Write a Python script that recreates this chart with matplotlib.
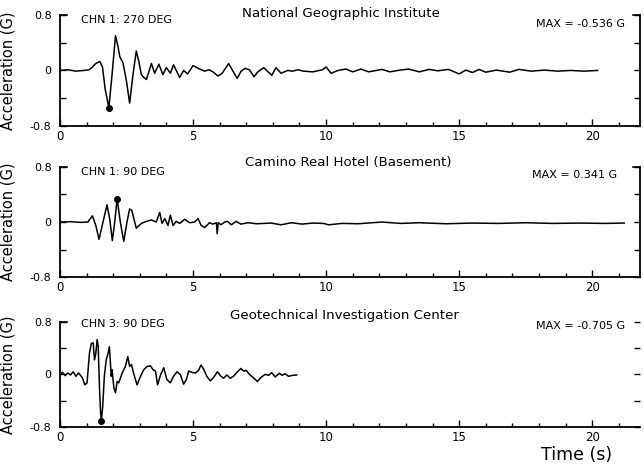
import matplotlib
matplotlib.use("Agg")
import matplotlib.pyplot as plt
from matplotlib.ticker import MultipleLocator, FixedLocator, FixedFormatter

# ---------------- data ----------------
stations = ["National Geographic Institute",
            "Camino Real Hotel (Basement)",
            "Geotechnical Investigation Center"]
channels = ["CHN 1: 270 DEG", "CHN 1: 90 DEG", "CHN 3: 90 DEG"]
max_labels = ["MAX = -0.536 G", "MAX = 0.341 G", "MAX = -0.705 G"]

t1 = [0, 0.3, 0.6, 0.9, 1.1, 1.2, 1.35, 1.5, 1.6, 1.7,
      1.84, 1.95, 2.09, 2.18, 2.25, 2.37, 2.5, 2.62, 2.75, 2.87,
      2.97, 3.06, 3.15, 3.25, 3.44, 3.56, 3.72, 3.87, 4.0, 4.15,
      4.27, 4.5, 4.65, 4.8, 5.0, 5.25, 5.44, 5.6, 5.75, 5.94,
      6.1, 6.34, 6.5, 6.66, 6.81, 6.96, 7.12, 7.29, 7.44, 7.66,
      7.82, 7.96, 8.12, 8.31, 8.56, 8.75, 8.94, 9.15, 9.5, 9.87,
      10.0, 10.19, 10.45, 10.75, 11.0, 11.31, 11.6, 12.1, 12.4, 12.7,
      13.1, 13.5, 13.87, 14.2, 14.6, 15.0, 15.25, 15.5, 15.75, 16.0,
      16.4, 16.9, 17.25, 17.7, 18.2, 18.7, 19.2, 19.7, 20.2]
a1 = [0, 0.01, -0.01, 0.0, 0.01, 0.04, 0.10, 0.13, 0.05, -0.27,
      -0.536, -0.10, 0.50, 0.35, 0.20, 0.11, -0.15, -0.47, -0.05, 0.28,
      0.12, -0.06, -0.10, -0.13, 0.10, -0.04, 0.09, -0.06, 0.04, -0.04,
      0.08, -0.10, 0.0, -0.05, 0.07, 0.02, -0.01, 0.01, -0.02, -0.08,
      -0.04, 0.10, -0.01, -0.115, -0.01, 0.03, 0.01, -0.09, -0.02, 0.04,
      -0.02, -0.07, 0.04, -0.04, 0.0, -0.01, 0.01, -0.01, -0.02, 0.01,
      0.05, -0.04, 0.0, 0.02, -0.02, 0.02, -0.02, 0.015, -0.02, 0.0,
      0.02, -0.02, 0.015, -0.005, 0.015, -0.05, 0.005, -0.03, 0.015, -0.025,
      0.005, -0.025, 0.015, -0.01, 0.005, -0.01, 0.0, -0.01, 0.0]

t2 = [0, 0.4, 0.8, 1.05, 1.22, 1.35, 1.47, 1.62, 1.77, 1.87,
      1.97, 2.06, 2.15, 2.27, 2.4, 2.52, 2.62, 2.7, 2.87, 3.06,
      3.25, 3.44, 3.62, 3.75, 3.84, 3.94, 4.06, 4.15, 4.25, 4.37,
      4.5, 4.69, 4.87, 5.06, 5.19, 5.31, 5.44, 5.62, 5.75, 5.88,
      5.91, 5.95, 6.05, 6.19, 6.3, 6.44, 6.62, 6.8, 7.06, 7.4,
      7.94, 8.31, 8.7, 9.1, 9.5, 9.9, 10.1, 10.6, 11.2, 12.1,
      12.8, 13.5, 14.5, 15.5, 16.5, 17.5, 18.5, 19.5, 20.5, 21.2]
a2 = [0, 0.005, -0.005, 0.0, 0.09, -0.05, -0.25, 0.0, 0.25, 0.05,
      -0.27, 0.0, 0.341, 0.0, -0.28, 0.0, 0.19, 0.17, -0.09, -0.02,
      0.01, 0.03, 0.0, 0.14, -0.02, 0.05, -0.05, 0.10, -0.05, 0.01,
      -0.02, 0.04, -0.01, 0.0, 0.05, -0.05, -0.08, -0.01, -0.03, -0.01,
      -0.17, -0.01, -0.04, 0.0, 0.01, -0.04, 0.01, -0.03, -0.01, -0.025,
      -0.015, -0.04, -0.01, -0.03, -0.015, -0.02, -0.04, -0.02, -0.025, 0.0,
      -0.02, -0.01, -0.025, -0.015, -0.02, -0.01, -0.02, -0.015, -0.02, -0.015]

t3 = [0, 0.1, 0.2, 0.3, 0.4, 0.5, 0.6, 0.7, 0.84, 0.94,
      1.02, 1.11, 1.18, 1.25, 1.3, 1.35, 1.4, 1.44, 1.49, 1.53,
      1.56, 1.61, 1.67, 1.74, 1.81, 1.86, 1.93, 1.96, 2.03, 2.09,
      2.15, 2.21, 2.34, 2.46, 2.55, 2.62, 2.69, 2.78, 2.9, 3.03,
      3.15, 3.28, 3.4, 3.5, 3.59, 3.67, 3.78, 3.9, 4.02, 4.15,
      4.27, 4.4, 4.52, 4.65, 4.75, 4.84, 4.96, 5.09, 5.21, 5.3,
      5.4, 5.52, 5.65, 5.77, 5.92, 6.05, 6.15, 6.27, 6.4, 6.52,
      6.65, 6.8, 6.9, 7.0, 7.12, 7.27, 7.42, 7.55, 7.71, 7.84,
      7.96, 8.09, 8.25, 8.35, 8.46, 8.59, 8.75, 8.9]
a3 = [0.0, 0.03, -0.02, 0.02, -0.01, 0.04, -0.03, 0.02, -0.05, -0.16,
      -0.13, 0.32, 0.47, 0.48, 0.22, 0.32, 0.53, 0.42, -0.23, -0.59,
      -0.705, -0.48, -0.03, 0.22, 0.32, 0.42, -0.03, 0.07, -0.21, -0.28,
      -0.11, -0.13, 0.02, 0.12, 0.27, 0.12, 0.15, 0.0, -0.16, -0.03,
      0.07, 0.12, 0.13, 0.07, 0.05, -0.16, -0.01, 0.10, -0.08, -0.13,
      -0.03, 0.04, 0.0, -0.15, -0.08, 0.05, 0.03, 0.02, 0.06, 0.14,
      0.08, -0.03, -0.10, -0.05, 0.04, -0.03, -0.06, -0.01, -0.06, -0.03,
      0.03, 0.09, 0.05, 0.06, 0.0, -0.05, -0.11, -0.05, 0.0, -0.015,
      0.025, -0.04, 0.015, -0.015, 0.01, -0.03, -0.015, -0.01]

peak_t = [1.84, 2.15, 1.56]
peak_a = [-0.536, 0.341, -0.705]

times = [t1, t2, t3]
accs = [a1, a2, a3]

x_ticks = [0, 5, 10, 15, 20]
y_ticks = [-0.8, -0.4, 0, 0.4, 0.8]
y_ticklabels = ["-0.8", "", "0", "", "0.8"]

# ---------------- figure ----------------
plt.rcParams['font.family'] = ['DejaVu Sans']
fig = plt.figure(figsize=(6.44, 4.65), dpi=100)

# axes boxes in figure fractions: [left, bottom, width, height]
boxes = [[0.093, 0.729, 0.901, 0.239],
         [0.093, 0.404, 0.901, 0.237],
         [0.093, 0.082, 0.901, 0.226]]
title_pos = [(0.484, 1.01), (0.497, 1.036), (0.491, 1.057)]
chn_y = [0.73, 0.72, 0.76]
max_pos = [(0.974, 0.92), (0.96, 0.93), (0.974, 0.96)]

for i in range(3):
    ax = fig.add_axes(boxes[i])
    ax.plot(times[i], accs[i], color='black', lw=1.1, solid_joinstyle='round')
    ax.plot([peak_t[i]], [peak_a[i]], 'o', color='black', ms=4)
    ax.set_xlim(0, 21.8)
    ax.set_ylim(-0.8, 0.8)

    ax.xaxis.set_major_locator(FixedLocator(x_ticks))
    ax.xaxis.set_minor_locator(MultipleLocator(1))
    ax.yaxis.set_major_locator(FixedLocator(y_ticks))
    ax.yaxis.set_major_formatter(FixedFormatter(y_ticklabels))
    ax.tick_params(axis='x', which='major', direction='in', length=5, width=1.0,
                   labelsize=8.5, pad=3, top=False)
    ax.tick_params(axis='x', which='minor', direction='in', length=3, width=1.0, top=False)
    ax.tick_params(axis='y', which='major', direction='in', length=4, width=1.0,
                   labelsize=8, pad=6, right=True)

    for side in ['left', 'bottom', 'right']:
        ax.spines[side].set_linewidth(1.3)
    ax.spines['top'].set_visible(False)
    if i == 2:
        ax.spines['right'].set_visible(False)
    # short corner marks at top
    ax.plot([0, 0.012], [1, 1], color='black', lw=1.2, transform=ax.transAxes, clip_on=False)
    if i < 2:
        ax.plot([0.988, 1.0], [1, 1], color='black', lw=1.2, transform=ax.transAxes, clip_on=False)

    ax.set_ylabel("Acceleration (G)", fontsize=10.5)
    ax.yaxis.set_label_coords(-0.076, 0.5)

    ax.text(0.78, chn_y[i], channels[i], fontsize=8, va='center', ha='left')
    ax.text(title_pos[i][0], title_pos[i][1], stations[i], fontsize=9.6,
            transform=ax.transAxes, ha='center', va='center')
    ax.text(max_pos[i][0], max_pos[i][1], max_labels[i], fontsize=8,
            transform=ax.transAxes, ha='right', va='center')

fig.text(0.896, 0.022, "Time (s)", fontsize=12.5, ha='center', va='center')

fig.savefig("out.png", dpi=100, facecolor='white')
